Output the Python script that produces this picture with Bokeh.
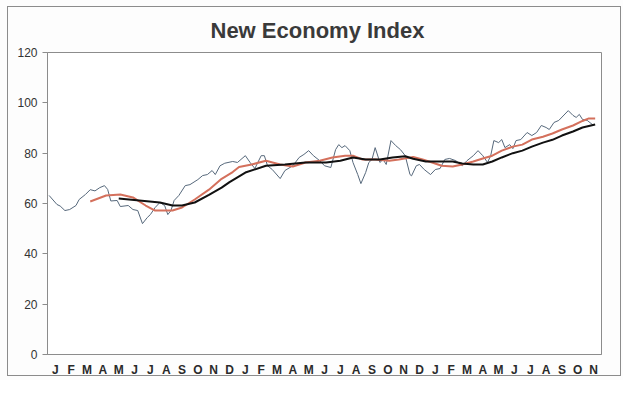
from bokeh.plotting import figure
from bokeh.models import FixedTicker, Range1d
from bokeh.embed import file_html
from bokeh.resources import INLINE

# ---- data -------------------------------------------------------------
MONTH_LABELS = list("JFMAMJJASOND") + list("JFMAMJJASOND") + list("JFMAMJJASON")

# raw index (time in months from the first January)
INDEX_T = [0.1, 0.6, 0.8, 1.1, 1.4, 1.8, 2.0, 2.4, 2.7, 3.0, 3.3, 3.6, 3.8, 4.0,
           4.4, 4.6, 5.1, 5.4, 5.7, 6.0, 6.3, 6.5, 6.8, 7.1, 7.4, 7.6, 7.8, 8.0,
           8.3, 8.7, 9.0, 9.5, 9.8, 10.1, 10.4, 10.6, 10.9, 11.2, 11.7, 12.0,
           12.5, 12.8, 13.1, 13.5, 13.7, 13.9, 14.2, 14.7, 15.0, 15.5, 15.9,
           16.2, 16.5, 16.8, 17.2, 17.5, 17.9, 18.2, 18.4, 18.6, 18.8, 19.1,
           19.3, 19.6, 19.8, 20.1, 20.3, 20.5, 20.7, 21.0, 21.2, 21.4, 21.7,
           22.0, 22.3, 22.6, 22.9, 23.0, 23.3, 23.5, 23.8, 24.2, 24.5, 24.8,
           25.1, 25.4, 25.8, 26.2, 26.5, 26.9, 27.2, 27.5, 27.8, 28.0, 28.2,
           28.5, 28.7, 28.9, 29.2, 29.4, 29.6, 29.9, 30.3, 30.6, 30.9, 31.2,
           31.5, 31.7, 32.0, 32.3, 32.9, 33.2, 33.4, 33.6, 33.8, 34.1, 34.5]
INDEX_V = [63.2, 59.6, 59.0, 57.2, 57.6, 59.2, 61.6, 63.6, 65.5, 65.0, 66.3, 67.1, 65.6, 61.0,
           61.2, 58.8, 59.2, 57.6, 57.2, 52.0, 54.4, 55.6, 58.4, 60.4, 59.2, 55.6, 57.2, 61.2,
           63.2, 67.1, 67.5, 69.5, 71.1, 71.5, 73.1, 71.5, 75.0, 76.0, 76.7, 76.3,
           79.0, 76.3, 73.9, 79.0, 79.0, 75.0, 73.5, 69.9, 73.1, 75.0, 78.3,
           79.5, 81.0, 79.0, 77.0, 75.0, 74.3, 81.4, 83.4, 82.2, 83.0, 81.0,
           76.3, 71.5, 67.9, 72.3, 76.3, 77.5, 82.2, 76.3, 77.5, 75.5, 85.0,
           83.0, 81.4, 79.0, 71.5, 71.0, 75.0, 75.5, 73.5, 71.5, 73.5, 73.9,
           77.5, 77.9, 77.0, 75.0, 77.0, 79.0, 81.0, 79.0, 76.3, 79.0, 85.0,
           84.2, 85.4, 82.2, 83.4, 81.8, 85.0, 85.4, 88.2, 87.0, 88.2, 91.0,
           90.2, 89.4, 92.2, 93.0, 96.9, 95.0, 94.2, 95.4, 93.4, 93.0, 91.0]

# shorter moving average (red)
SHORT_T = [2.7, 3.7, 4.6, 5.4, 6.2, 6.8, 7.9, 8.5, 9.3, 10.2, 11.0, 11.7, 12.1,
           12.9, 13.8, 14.7, 15.5, 16.3, 17.2, 18.0, 18.8, 19.3, 19.9, 20.7, 21.6,
           22.2, 23.1, 23.7, 24.3, 24.9, 25.6, 26.2, 26.9, 27.5, 28.1, 28.7, 29.4,
           30.0, 30.6, 31.3, 31.9, 32.5, 33.2, 33.8, 34.2, 34.6]
SHORT_V = [60.8, 63.2, 63.6, 62.4, 59.2, 57.2, 57.2, 58.4, 61.6, 65.5, 69.8, 72.5, 74.5,
           75.5, 77.0, 75.5, 74.7, 76.3, 77.0, 78.3, 79.0, 79.0, 77.5, 77.5, 77.0,
           77.5, 78.5, 77.5, 76.3, 75.0, 74.7, 75.5, 76.7, 77.9, 79.0, 81.0, 82.6,
           83.4, 85.4, 86.5, 87.8, 89.4, 91.0, 92.8, 93.8, 93.8]

# longer moving average (black)
LONG_T = [4.5, 5.8, 7.1, 7.9, 8.5, 9.3, 10.2, 11.0, 11.5, 12.5, 13.8, 15.0, 16.3,
          17.6, 18.5, 19.3, 20.1, 21.0, 21.8, 22.6, 23.1, 23.9, 24.8, 25.6, 26.2,
          26.9, 27.5, 28.1, 28.7, 29.4, 30.0, 30.6, 31.3, 31.9, 32.5, 33.2, 33.8, 34.6]
LONG_V = [62.0, 61.2, 60.4, 59.2, 59.2, 60.4, 63.4, 66.3, 68.5, 72.3, 75.0, 75.5, 76.3,
          76.3, 77.0, 78.3, 77.5, 77.5, 78.3, 78.8, 77.8, 76.7, 76.7, 76.7, 75.9,
          75.5, 75.5, 76.7, 78.3, 80.0, 81.0, 82.6, 84.2, 85.3, 87.0, 88.6, 90.2, 91.4]

Y_TICKS = [0, 20, 40, 60, 80, 100, 120]

# ---- figure -----------------------------------------------------------
FONT = "Liberation Sans"
GREY = "#8c8c8c"
PAPER = "#fdfdfd"

# outer page frame drawn as layered inset shadows behind a transparent border area
FRAME_CSS = (f"inset 7px 6px 0 0 {PAPER}, inset -2px -4px 0 0 {PAPER}, "
             f"inset 8px 7px 0 0 {GREY}, inset -3px -5px 0 0 {GREY}")

p = figure(width=623, height=380,
           x_range=Range1d(0, len(MONTH_LABELS)), y_range=Range1d(0, 120),
           output_backend="svg", toolbar_location=None,
           min_border_left=47, min_border_right=22,
           min_border_top=52, min_border_bottom=26,
           border_fill_color=None, background_fill_color="white",
           styles={"box-shadow": FRAME_CSS, "background-color": PAPER})

p.title.text = "New Economy Index"
p.title.align = "left"
p.title.offset = 163
p.title.text_font = FONT
p.title.text_font_size = "22px"
p.title.text_font_style = "bold"
p.title.text_color = "#3a3a3a"
p.title.standoff = 19

p.grid.visible = False
p.outline_line_color = GREY
p.outline_line_width = 1

# x axis: month letters centred in each month band
xt = [i + 0.5 for i in range(len(MONTH_LABELS))]
p.xaxis.ticker = FixedTicker(ticks=xt)
p.xaxis.major_label_overrides = {t: lab for t, lab in zip(xt, MONTH_LABELS)}
p.xaxis.major_tick_line_color = None
p.xaxis.minor_tick_line_color = None
p.xaxis.major_tick_in = 0
p.xaxis.major_tick_out = 0
p.xaxis.minor_tick_in = 0
p.xaxis.minor_tick_out = 0
p.xaxis.axis_label_standoff = 0
p.xaxis.axis_line_color = GREY
p.xaxis.major_label_text_font = FONT
p.xaxis.major_label_text_font_size = "12px"
p.xaxis.major_label_text_font_style = "bold"
p.xaxis.major_label_text_color = "#2a2a2a"
p.xaxis.major_label_text_line_height = 1.0
p.xaxis.major_label_standoff = 8

p.yaxis.ticker = FixedTicker(ticks=Y_TICKS)
p.yaxis.minor_tick_line_color = None
p.yaxis.minor_tick_in = 0
p.yaxis.minor_tick_out = 0
p.yaxis.major_tick_in = 0
p.yaxis.major_tick_out = 5
p.yaxis.major_tick_line_color = GREY
p.yaxis.axis_line_color = GREY
p.yaxis.major_label_text_font = FONT
p.yaxis.major_label_text_font_size = "12px"
p.yaxis.major_label_text_color = "#333333"
p.yaxis.major_label_standoff = 5

p.line(INDEX_T, INDEX_V, line_color="#56687b", line_width=1)
p.line(SHORT_T, SHORT_V, line_color="#d4705c", line_width=2)
p.line(LONG_T, LONG_V, line_color="#111111", line_width=2)

open("out.html", "w").write(file_html(p, INLINE))
